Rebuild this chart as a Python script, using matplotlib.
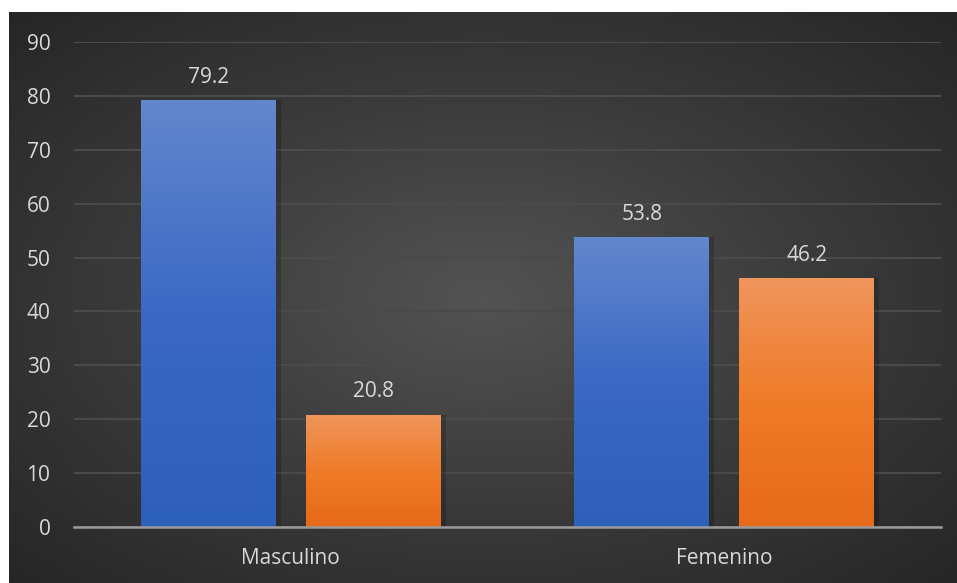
import numpy as np
import matplotlib
matplotlib.use("Agg")
import matplotlib.pyplot as plt
from matplotlib.colors import LinearSegmentedColormap

categories = ["Masculino", "Femenino"]
series_a = [79.2, 53.8]
series_b = [20.8, 46.2]
y_ticks = [0, 10, 20, 30, 40, 50, 60, 70, 80, 90]

plt.rcParams["font.family"] = ["Open Sans", "DejaVu Sans"]
text_color = "#d9d9d9"
fsize = 15

W, H = 957, 583
fig = plt.figure(figsize=(W / 100, H / 100), dpi=100, facecolor="white")

# dark chart area with a radial glow
bg = fig.add_axes([9 / W, 0, 948 / W, 571 / H])
bg.set_axis_off()
ny, nx = 300, 500
yy, xx = np.mgrid[0:1:ny * 1j, 0:1:nx * 1j]
r = np.sqrt(((xx - 0.5) / 0.75) ** 2 + ((yy - 0.5) / 0.75) ** 2)
r = np.clip(r / 0.95, 0, 1)
bg_cmap = LinearSegmentedColormap.from_list("bg", ["#535353", "#3b3b3b", "#262626"])
bg.imshow(r, cmap=bg_cmap, aspect="auto", extent=[0, 1, 0, 1], interpolation="bilinear")
bg.set_xlim(0, 1)
bg.set_ylim(0, 1)

ax = fig.add_axes([74 / W, (H - 527) / H, (941 - 74) / W, (527 - 42) / H])
ax.patch.set_alpha(0)

x = np.arange(len(categories))
width = 0.311
offset = 0.19

blue_cmap = LinearSegmentedColormap.from_list("blue", ["#2d60bb", "#3a68c4", "#6387cd"])
orange_cmap = LinearSegmentedColormap.from_list("orange", ["#e66a19", "#ef7b28", "#f0955c"])

grad = np.linspace(0, 1, 256).reshape(-1, 1)

def gradient_bars(xpos, values, cmap):
    bars = ax.bar(xpos, values, width, color="none", zorder=3)
    for b in bars:
        x0, y0 = b.get_x(), b.get_y()
        w, h = b.get_width(), b.get_height()
        # soft shadow
        ax.bar(x0 + w / 2 + 0.006, h, w + 0.012, bottom=0, color="black",
               alpha=0.18, zorder=2, linewidth=0)
        im = ax.imshow(grad, cmap=cmap, aspect="auto", origin="lower",
                       extent=[x0, x0 + w, y0, y0 + h], zorder=3)
        im.set_clip_path(b)
    for xi, v in zip(xpos, values):
        ax.annotate(f"{v}", (xi, v), xytext=(0, 9), textcoords="offset points",
                    ha="center", va="bottom", color=text_color, fontsize=fsize)
    return bars

gradient_bars(x - offset, series_a, blue_cmap)
gradient_bars(x + offset, series_b, orange_cmap)
ax.set_xlim(-0.5, 1.5)
ax.set_ylim(0, 90)

ax.set_yticks(y_ticks)
ax.set_yticklabels([str(t) for t in y_ticks], color=text_color, fontsize=fsize)
ax.set_xticks(x)
ax.set_xticklabels(categories, color=text_color, fontsize=fsize)
ax.tick_params(axis="both", length=0)
ax.tick_params(axis="y", pad=17)
ax.tick_params(axis="x", pad=15)
ax.yaxis.grid(True, color="#4a4a4a", linewidth=1.5, zorder=0)
ax.set_axisbelow(True)
for s in ["top", "right", "left"]:
    ax.spines[s].set_visible(False)
ax.spines["bottom"].set_color("#9a9a9a")
ax.spines["bottom"].set_linewidth(1.8)
ax.spines["bottom"].set_zorder(4)

fig.savefig("out.png", dpi=100, facecolor="white")
